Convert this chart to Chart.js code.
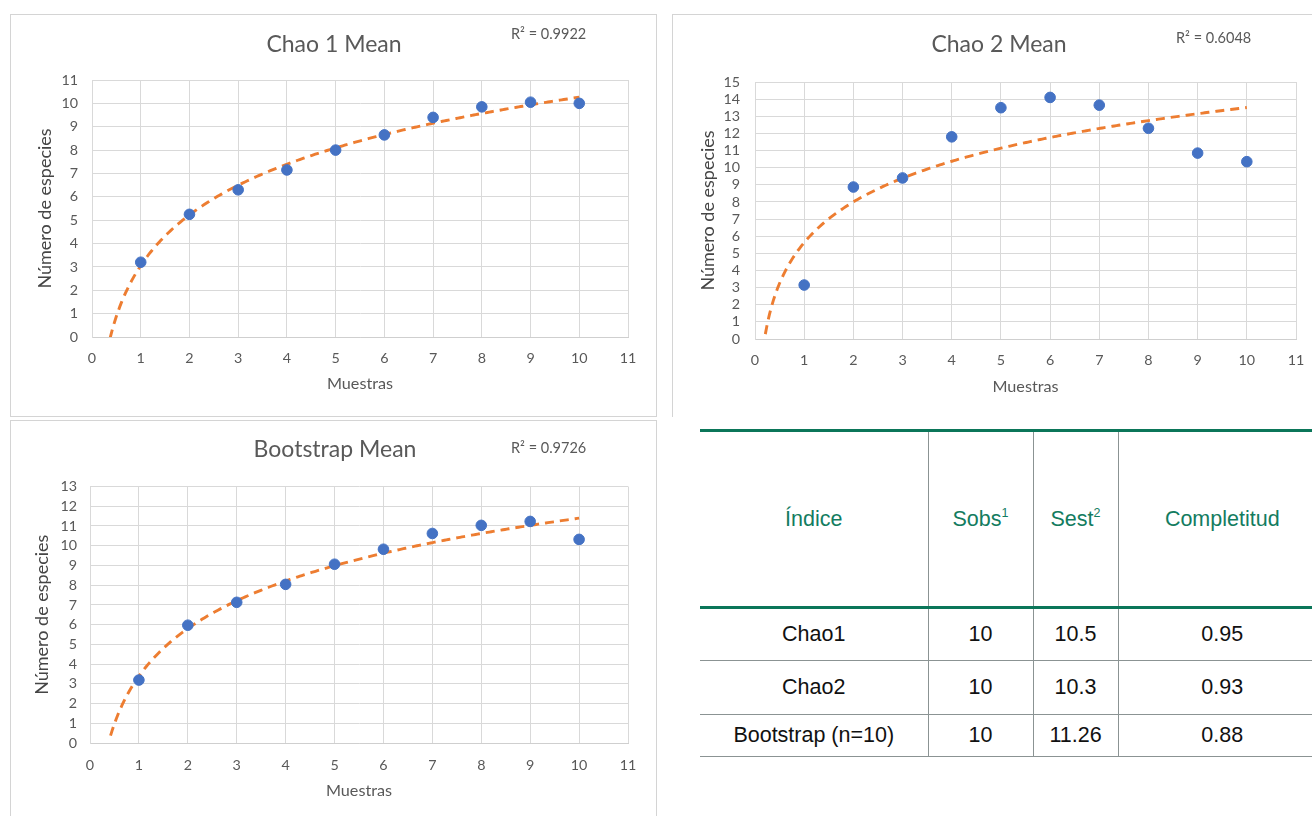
<!DOCTYPE html>
<html lang="es">
<head>
<meta charset="utf-8">
<title>Curvas de acumulación de especies</title>
<script src="https://cdn.jsdelivr.net/npm/chart.js@4.4.1/dist/chart.umd.min.js"></script>
<style>
  html, body { margin: 0; padding: 0; background: #fff; }
  #page { position: relative; width: 1312px; height: 816px; overflow: hidden; background: #fff; }
  .panel { position: absolute; box-sizing: border-box; border: 1px solid #d4d4d4; background: #fff; }
  .plot { position: absolute; }
  .r2 { position: absolute; font-family: Lato, "Open Sans", sans-serif; font-size: 14.5px; line-height: 16px;
        color: #595959; white-space: nowrap; }
  #tabla { position: absolute; left: 700px; top: 429px; width: 626px; border-collapse: collapse;
           table-layout: fixed; font-family: "Liberation Sans", Arial, sans-serif; }
  #tabla th { height: 174px; padding: 0; font-weight: normal; font-size: 21.5px; color: #137c5f;
              border-top: 3px solid #0b7659; border-bottom: 3px solid #0b7659; text-align: center; }
  #tabla td { padding: 0; font-size: 21.5px; color: #111; text-align: center; border-bottom: 1px solid #8b9393; }
  #tabla th + th, #tabla td + td { border-left: 1px solid #8b9393; }
  #tabla sup { font-size: 12.5px; vertical-align: 9px; line-height: 0; }
</style>
</head>
<body>
<div id="page">
  <div class="panel" style="left:10px;top:14px;width:647px;height:403px"></div>
  <div class="panel" style="left:672px;top:14px;width:680px;height:403px;border-bottom:none"></div>
  <div class="panel" style="left:10px;top:420px;width:647px;height:420px"></div>

  <canvas class="plot" id="chao1" width="647" height="402" style="left:10px;top:14px"></canvas>
  <canvas class="plot" id="chao2" width="652" height="402" style="left:672px;top:14px"></canvas>
  <canvas class="plot" id="boot" width="647" height="402" style="left:10px;top:420px"></canvas>

  <div class="r2" id="r2a" style="left:511px;top:26px"></div>
  <div class="r2" id="r2b" style="left:1176px;top:30px"></div>
  <div class="r2" id="r2c" style="left:511px;top:440px"></div>

  <table id="tabla"></table>
</div>

<script>
// ---- data -------------------------------------------------------------
const muestras      = [1, 2, 3, 4, 5, 6, 7, 8, 9, 10];
const chao1Mean     = [3.2, 5.25, 6.3, 7.15, 8.0, 8.65, 9.4, 9.85, 10.05, 10.0];
const chao2Mean     = [3.15, 8.87, 9.4, 11.8, 13.5, 14.1, 13.65, 12.3, 10.85, 10.35];
const bootstrapMean = [3.19, 5.97, 7.13, 8.04, 9.06, 9.82, 10.62, 11.03, 11.23, 10.32];

const chartTitles = ['Chao 1 Mean', 'Chao 2 Mean', 'Bootstrap Mean'];
const r2Labels    = ['R² = 0.9922', 'R² = 0.6048', 'R² = 0.9726'];
const yAxisMax    = [11, 15, 13];
const xAxisMax    = 11;
const trendFrom   = [0.37, 0.21, 0.42];   // backward forecast start of each trendline
const xAxisTitle  = 'Muestras';
const yAxisTitle  = 'Número de especies';

const tableHeaders = ['Índice', 'Sobs', 'Sest', 'Completitud'];
const headerNotes  = ['', '1', '2', ''];
const indices      = ['Chao1', 'Chao2', 'Bootstrap (n=10)'];
const sobs         = ['10', '10', '10'];
const sest         = ['10.5', '10.3', '11.26'];
const completitud  = ['0.95', '0.93', '0.88'];

// ---- styling ----------------------------------------------------------
const FONT = 'Lato, "Open Sans", sans-serif';
const GREY_TEXT = '#595959';
const TITLE_SIZE = 23, X_TITLE_SIZE = 16.2, Y_TITLE_SIZE = 18, TICK_SIZE = 14.3, LH = 1.2;

// Logarithmic least-squares trendline  y = a·ln(x) + b
function fitLogTrend(xs, ys) {
  const lx = xs.map(Math.log);
  const n = xs.length;
  const mx = lx.reduce((s, v) => s + v, 0) / n;
  const my = ys.reduce((s, v) => s + v, 0) / n;
  let sxy = 0, sxx = 0;
  for (let i = 0; i < n; i++) { sxy += (lx[i] - mx) * (ys[i] - my); sxx += (lx[i] - mx) ** 2; }
  const a = sxy / sxx;
  return { a, b: my - a * mx };
}

function trendPoints(xs, ys, from) {
  const { a, b } = fitLogTrend(xs, ys);
  const to = xs[xs.length - 1];
  const pts = [];
  const steps = 240;
  for (let k = 0; k <= steps; k++) {
    const x = from + (to - from) * k / steps;
    pts.push({ x, y: a * Math.log(x) + b });
  }
  return pts;
}

// frame: page-space geometry of each panel (panel box, plot area, text centres)
function makeChart(id, values, idx, frame) {
  const W = frame.w, H = frame.h;
  const R = W - (frame.plotR - frame.x);
  const L = 2 * (frame.titleCX - frame.x) - W + R;
  const yScaleW = (frame.plotL - frame.x) - L;
  const xScaleH = H - (frame.plotB - frame.y);
  const lhT = TITLE_SIZE * LH, lhX = X_TITLE_SIZE * LH, lhY = Y_TITLE_SIZE * LH, lhK = TICK_SIZE * LH;

  const tickFont = { family: FONT, size: TICK_SIZE };

  return new Chart(document.getElementById(id), {
    type: 'scatter',
    data: {
      datasets: [
        {
          label: chartTitles[idx],
          data: muestras.map((x, i) => ({ x, y: values[i] })),
          backgroundColor: '#4472C4',
          borderColor: '#4472C4',
          pointRadius: 5.3,
          pointHoverRadius: 5.3,
          order: 0
        },
        {
          type: 'line',
          label: 'Logarítmica',
          data: trendPoints(muestras, values, trendFrom[idx]),
          borderColor: '#ED7D31',
          borderWidth: 2.9,
          borderDash: [9, 6],
          pointRadius: 0,
          fill: false,
          tension: 0,
          order: 1
        }
      ]
    },
    options: {
      responsive: false,
      devicePixelRatio: 1,
      animation: false,
      layout: { padding: { left: L, right: R, top: 0, bottom: 0 } },
      plugins: {
        legend: { display: false },
        tooltip: { enabled: false },
        title: {
          display: true,
          text: chartTitles[idx],
          color: GREY_TEXT,
          font: { family: FONT, size: TITLE_SIZE, weight: 'normal' },
          padding: {
            top: (frame.titleCY - frame.y) - lhT / 2,
            bottom: (frame.plotT - frame.titleCY) - lhT / 2
          }
        }
      },
      scales: {
        x: {
          type: 'linear',
          min: 0, max: xAxisMax,
          ticks: { stepSize: 1, autoSkip: false, maxRotation: 0, color: GREY_TEXT, font: tickFont,
                   padding: (frame.xTickCY - frame.plotB) - lhK / 2 },
          grid: { color: '#d9d9d9', lineWidth: 1, drawTicks: false },
          border: { color: '#cfcfcf', width: 1 },
          title: { display: true, text: xAxisTitle, color: GREY_TEXT,
                   font: { family: FONT, size: X_TITLE_SIZE },
                   padding: { top: 0, bottom: H - (frame.xTitleCY - frame.y) - lhX / 2 } },
          afterFit: s => { s.height = xScaleH; }
        },
        y: {
          type: 'linear',
          min: 0, max: yAxisMax[idx],
          ticks: { stepSize: 1, autoSkip: false, color: GREY_TEXT, font: tickFont,
                   padding: frame.plotL - frame.yTickR },
          grid: { color: '#d9d9d9', lineWidth: 1, drawTicks: false },
          border: { color: '#d9d9d9', width: 1 },
          title: { display: true, text: yAxisTitle, color: '#454545',
                   font: { family: FONT, size: Y_TITLE_SIZE },
                   padding: { top: (frame.yTitleCX - frame.x) - L - lhY / 2, bottom: 0 } },
          afterFit: s => { s.width = yScaleW; }
        }
      }
    }
  });
}

makeChart('chao1', chao1Mean, 0, {
  x: 10, y: 14, w: 647, h: 402,
  plotL: 92, plotR: 628, plotT: 80, plotB: 337,
  titleCX: 334, titleCY: 45, yTitleCX: 45.5, xTitleCY: 384, xTickCY: 358, yTickR: 78
});
makeChart('chao2', chao2Mean, 1, {
  x: 672, y: 14, w: 652, h: 402,
  plotL: 755, plotR: 1296, plotT: 82, plotB: 339,
  titleCX: 999, titleCY: 45, yTitleCX: 708, xTitleCY: 387, xTickCY: 360, yTickR: 740
});
makeChart('boot', bootstrapMean, 2, {
  x: 10, y: 420, w: 647, h: 402,
  plotL: 90, plotR: 628, plotT: 486.5, plotB: 743,
  titleCX: 335, titleCY: 450, yTitleCX: 42, xTitleCY: 791, xTickCY: 765, yTickR: 77
});

['r2a', 'r2b', 'r2c'].forEach((id, i) => { document.getElementById(id).textContent = r2Labels[i]; });

// ---- summary table ----------------------------------------------------
(function buildTable() {
  const t = document.getElementById('tabla');
  const colW = [228, 105, 85, 208];
  const cg = document.createElement('colgroup');
  colW.forEach(w => { const c = document.createElement('col'); c.style.width = w + 'px'; cg.appendChild(c); });
  t.appendChild(cg);

  const head = document.createElement('tr');
  tableHeaders.forEach((h, i) => {
    const th = document.createElement('th');
    th.textContent = h;
    if (headerNotes[i]) { const s = document.createElement('sup'); s.textContent = headerNotes[i]; th.appendChild(s); }
    head.appendChild(th);
  });
  t.appendChild(head);

  const rowH = [51, 53, 41];
  indices.forEach((name, r) => {
    const tr = document.createElement('tr');
    [name, sobs[r], sest[r], completitud[r]].forEach(v => {
      const td = document.createElement('td');
      td.textContent = v;
      td.style.height = rowH[r] + 'px';
      tr.appendChild(td);
    });
    t.appendChild(tr);
  });
})();
</script>
</body>
</html>
